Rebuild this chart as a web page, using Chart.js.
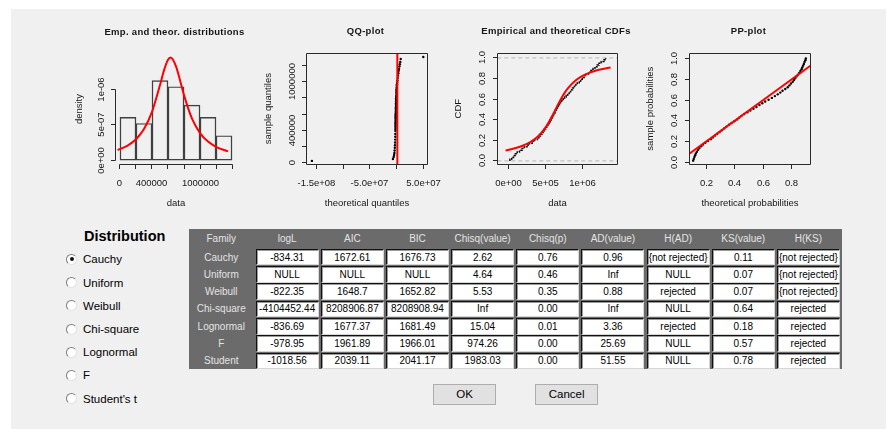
<!DOCTYPE html>
<html>
<head>
<meta charset="utf-8">
<script src="https://cdn.jsdelivr.net/npm/chart.js@4.4.0/dist/chart.umd.min.js"></script>
<style>
body { margin:0; width:887px; height:429px; background:#fff; position:relative; overflow:hidden; font-family:"Liberation Sans", Arial, sans-serif; }
#panel { position:absolute; left:11px; top:9px; width:875px; height:420px; background:#f0f0f0; }
canvas { position:absolute; }
#heading { position:absolute; left:84px; top:227px; font-size:14.5px; font-weight:bold; line-height:18px; color:#000; }
.radio { position:absolute; left:66px; height:16px; line-height:16px; font-size:11.5px; color:#000; white-space:nowrap; }
.radio .dot { position:absolute; left:0; top:2.5px; width:9px; height:9px; border:1px solid; border-color:#7d7d7d #e2e2e2 #e2e2e2 #7d7d7d; border-radius:50%; background:#fff; }
.radio .dot.on::after { content:''; position:absolute; left:2.5px; top:2.5px; width:4px; height:4px; border-radius:50%; background:#111; }
.radio span { position:absolute; left:17px; }
#tbl { position:absolute; left:189px; top:229.3px; width:652.7px; height:140px; background:#6b6b6b; display:grid; grid-template-columns:64.5px repeat(9,63px); grid-template-rows:18.7px repeat(7,16.6px); column-gap:2.16px; row-gap:0.73px; font-size:10px; }
#tbl div { display:flex; align-items:center; justify-content:center; white-space:nowrap; overflow:hidden; }
#tbl .hd { color:#e4e4e4; }
#tbl .cell { background:#fff; color:#000; box-sizing:border-box; border-top:1px solid #111; border-left:1px solid #111; border-right:1px solid #d6d6d6; border-bottom:1px solid #d6d6d6; box-shadow:inset 1px 1px 0 #9a9a9a; }
.btn { position:absolute; top:384px; width:62.7px; height:20.7px; box-sizing:border-box; background:#e1e1e1; border:1px solid #adadad; font-size:11.5px; display:flex; align-items:center; justify-content:center; color:#000; }
</style>
</head>
<body>
<div id="panel"></div>
<canvas id="c1"></canvas>
<canvas id="c2"></canvas>
<canvas id="c3"></canvas>
<canvas id="c4"></canvas>
<div id="heading">Distribution</div>
<div id="radios"></div>
<div id="tbl"></div>
<div class="btn" style="left:433.3px">OK</div>
<div class="btn" style="left:535.3px">Cancel</div>
<script>
// histogram (bins of 200000)
const histBreaks = [0, 200000, 400000, 600000, 800000, 1000000, 1200000, 1400000]
const binMid = [100000, 300000, 500000, 700000, 900000, 1100000, 1300000]
const binDensity = [0.603e-6, 0.517e-6, 1.12e-6, 1.034e-6, 0.776e-6, 0.603e-6, 0.345e-6]

// fitted density curve (red)
const denX = [-30000, 100000, 200000, 300000, 400000, 500000, 550000, 600000, 633000, 700000, 750000, 800000, 900000, 1000000, 1100000, 1200000, 1350000]
const denY = [0.143e-6, 0.21e-6, 0.296e-6, 0.439e-6, 0.681e-6, 1.057e-6, 1.264e-6, 1.412e-6, 1.444e-6, 1.321e-6, 1.126e-6, 0.916e-6, 0.584e-6, 0.382e-6, 0.262e-6, 0.189e-6, 0.124e-6]

// sorted sample
const sampleSorted = [22000, 45000, 70000, 95000, 120000, 150000, 185000, 215000, 250000, 285000,
  320000, 355000, 390000, 410000, 430000, 450000, 468000, 485000, 500000, 515000,
  530000, 545000, 560000, 575000, 585000, 597000, 610000, 625000, 640000, 655000,
  670000, 685000, 700000, 715000, 735000, 755000, 775000, 795000, 815000, 835000,
  860000, 885000, 905000, 925000, 950000, 970000, 990000, 1015000, 1045000, 1075000,
  1105000, 1135000, 1160000, 1190000, 1215000, 1245000, 1280000, 1305000]

// QQ-plot theoretical quantiles
const qqTheo = [-159e6, -7.0e6, -5.6e6, -4.8e6, -4.2e6, -3.8e6, -3.4e6, -3.1e6, -2.9e6, -2.7e6,
  -2.5e6, -2.4e6, -2.3e6, -2.2e6, -2.15e6, -2.1e6, -2.05e6, -2.0e6, -1.95e6, -1.9e6,
  -1.85e6, -1.8e6, -1.75e6, -1.7e6, -1.65e6, -1.6e6, -1.55e6, -1.5e6, -1.45e6, -1.4e6,
  -1.35e6, -1.3e6, -1.25e6, -1.2e6, -1.15e6, -1.1e6, -1.0e6, -0.9e6, -0.8e6, -0.7e6,
  -0.6e6, -0.5e6, -0.3e6, -0.1e6, 0.2e6, 0.6e6, 1.0e6, 1.5e6, 2.0e6, 2.6e6,
  3.2e6, 3.8e6, 4.5e6, 5.2e6, 6.0e6, 6.8e6, 7.6e6, 50e6]
const qqLineX = [1.1e6, 1.3e6]
const qqLineY = [-16000, 1351000]

// empirical probabilities
const ecdfP = [0.017, 0.034, 0.052, 0.069, 0.086, 0.103, 0.121, 0.138, 0.155, 0.172,
  0.190, 0.207, 0.224, 0.241, 0.259, 0.276, 0.293, 0.310, 0.328, 0.345,
  0.362, 0.379, 0.397, 0.414, 0.431, 0.448, 0.466, 0.483, 0.500, 0.517,
  0.534, 0.552, 0.569, 0.586, 0.603, 0.621, 0.638, 0.655, 0.672, 0.690,
  0.707, 0.724, 0.741, 0.759, 0.776, 0.793, 0.810, 0.828, 0.845, 0.862,
  0.879, 0.897, 0.914, 0.931, 0.948, 0.966, 0.983, 1.000]

// theoretical CDF curve (red)
const cdfX = [-36000, 100000, 200000, 300000, 400000, 500000, 550000, 600000, 650000, 700000, 750000, 800000, 900000, 1000000, 1100000, 1200000, 1370000]
const cdfY = [0.101, 0.125, 0.150, 0.186, 0.241, 0.327, 0.385, 0.453, 0.525, 0.594, 0.656, 0.707, 0.781, 0.828, 0.860, 0.882, 0.908]

// PP-plot theoretical probabilities
const ppTheo = [0.110, 0.114, 0.119, 0.124, 0.129, 0.136, 0.145, 0.154, 0.166, 0.179,
  0.195, 0.213, 0.234, 0.248, 0.263, 0.279, 0.295, 0.311, 0.327, 0.343,
  0.361, 0.379, 0.398, 0.418, 0.432, 0.448, 0.467, 0.489, 0.510, 0.532,
  0.553, 0.574, 0.594, 0.614, 0.638, 0.661, 0.682, 0.702, 0.720, 0.736,
  0.755, 0.772, 0.784, 0.795, 0.807, 0.816, 0.824, 0.834, 0.844, 0.853,
  0.861, 0.869, 0.874, 0.880, 0.885, 0.890, 0.896, 0.899]
const ppLine = [0.083, 0.933]

// table
const headers = ['Family', 'logL', 'AIC', 'BIC', 'Chisq(value)', 'Chisq(p)', 'AD(value)', 'H(AD)', 'KS(value)', 'H(KS)']
const families = ['Cauchy', 'Uniform', 'Weibull', 'Chi-square', 'Lognormal', 'F', 'Student']
const logL = ['-834.31', 'NULL', '-822.35', '-4104452.44', '-836.69', '-978.95', '-1018.56']
const aic = ['1672.61', 'NULL', '1648.7', '8208906.87', '1677.37', '1961.89', '2039.11']
const bic = ['1676.73', 'NULL', '1652.82', '8208908.94', '1681.49', '1966.01', '2041.17']
const chisqValue = ['2.62', '4.64', '5.53', 'Inf', '15.04', '974.26', '1983.03']
const chisqP = ['0.76', '0.46', '0.35', '0.00', '0.01', '0.00', '0.00']
const adValue = ['0.96', 'Inf', '0.88', 'Inf', '3.36', '25.69', '51.55']
const hAD = ['{not rejected}', 'NULL', 'rejected', 'NULL', 'rejected', 'NULL', 'NULL']
const ksValue = ['0.11', '0.07', '0.07', '0.64', '0.18', '0.57', '0.78']
const hKS = ['{not rejected}', '{not rejected}', '{not rejected}', 'rejected', 'rejected', 'rejected', 'rejected']

const distNames = ['Cauchy', 'Uniform', 'Weibull', 'Chi-square', 'Lognormal', 'F', "Student's t"]
const radioY = [259.3, 282.5, 305.7, 329, 352.2, 375.4, 398.6]

// radios
const radios = document.getElementById('radios')
distNames.forEach((n, i) => {
  const r = document.createElement('div')
  r.className = 'radio'
  r.style.top = (radioY[i] - 8) + 'px'
  r.innerHTML = '<div class="dot' + (i === 0 ? ' on' : '') + '"></div><span>' + n + '</span>'
  radios.appendChild(r)
})

// table
const tbl = document.getElementById('tbl')
headers.forEach(h => { const d = document.createElement('div'); d.className = 'hd'; d.textContent = h; tbl.appendChild(d) })
const cols = [logL, aic, bic, chisqValue, chisqP, adValue, hAD, ksValue, hKS]
families.forEach((f, r) => {
  const d = document.createElement('div'); d.className = 'hd'; d.textContent = f; tbl.appendChild(d)
  cols.forEach(col => { const c = document.createElement('div'); c.className = 'cell'; c.textContent = col[r]; tbl.appendChild(c) })
})

// R style axes, box and titles
const axisCfg = {}
const FONT = '"Liberation Sans", Arial, sans-serif'
const rAxes = {
  id: 'rAxes',
  afterDraw(chart) {
    const o = axisCfg[chart.canvas.id]
    const ctx = chart.ctx, a = chart.chartArea
    const xs = chart.scales.x, ys = chart.scales.y
    const c = v => Math.floor(v) + 0.5
    const L = c(a.left), R = c(a.right), T = c(a.top), B = c(a.bottom)
    ctx.save()
    ctx.strokeStyle = '#2a2a2a'
    ctx.fillStyle = '#161616'
    ctx.lineWidth = 1
    ctx.beginPath()
    if (o.box) ctx.rect(L, T, R - L, B - T)
    const xp = o.xTicks.map(v => c(xs.getPixelForValue(v)))
    const yp = o.yTicks.map(v => c(ys.getPixelForValue(v)))
    ctx.moveTo(xp[0], B); ctx.lineTo(xp[xp.length - 1], B)
    ctx.moveTo(L, yp[0]); ctx.lineTo(L, yp[yp.length - 1])
    xp.forEach(p => { ctx.moveTo(p, B); ctx.lineTo(p, B + 4.5) })
    yp.forEach(p => { ctx.moveTo(L, p); ctx.lineTo(L - 4.5, p) })
    ctx.stroke()
    ctx.font = '9.5px ' + FONT
    ctx.textAlign = 'center'
    ctx.textBaseline = 'middle'
    o.xLabels.forEach((t, i) => { if (t) ctx.fillText(t, xp[i], a.bottom + 19) })
    o.yLabels.forEach((t, i) => {
      if (!t) return
      ctx.save(); ctx.translate(a.left - 14.5, yp[i]); ctx.rotate(-Math.PI / 2); ctx.fillText(t, 0, 0); ctx.restore()
    })
    ctx.fillText(o.xTitle, (a.left + a.right) / 2, a.bottom + 39)
    ctx.save(); ctx.translate(a.left - o.yGap, (a.top + a.bottom) / 2); ctx.rotate(-Math.PI / 2); ctx.fillText(o.yTitle, 0, 0); ctx.restore()
    ctx.font = 'bold 9.5px ' + FONT
    ctx.letterSpacing = '0.3px'
    ctx.fillText(o.title, (a.left + a.right) / 2 - 1.5, a.top - 21.5)
    ctx.restore()
  }
}

function makeChart(id, rect, box, type, datasets, xr, yr, axes, xBreaks) {
  const cv = document.getElementById(id)
  cv.style.left = rect[0] + 'px'
  cv.style.top = rect[1] + 'px'
  cv.width = rect[2]
  cv.height = rect[3]
  axisCfg[id] = axes
  const xScale = { type: 'linear', display: false, min: xr[0], max: xr[1], offset: false }
  if (xBreaks) xScale.afterBuildTicks = s => { s.ticks = xBreaks.map(v => ({ value: v })) }
  return new Chart(cv, {
    type: type,
    data: { datasets: datasets },
    options: {
      responsive: false,
      animation: false,
      events: [],
      layout: { autoPadding: false, padding: { left: box[0] - rect[0], top: box[1] - rect[1], right: rect[0] + rect[2] - box[2], bottom: rect[1] + rect[3] - box[3] } },
      plugins: { legend: { display: false }, tooltip: { enabled: false } },
      scales: { x: xScale, y: { type: 'linear', display: false, min: yr[0], max: yr[1] } }
    },
    plugins: [rAxes]
  })
}

const red = { borderColor: '#ff0000', borderWidth: 2, pointRadius: 0, showLine: true, fill: false }

// 1. histogram + density
makeChart('c1', [60, 15, 190, 200], [115.5, 53.6, 236.5, 164.5], 'bar', [
  Object.assign({ type: 'line', data: denX.map((v, i) => ({ x: v, y: denY[i] })), cubicInterpolationMode: 'monotone' }, red),
  { type: 'bar', data: binMid.map((v, i) => ({ x: v, y: binDensity[i] })), backgroundColor: 'rgba(0,0,0,0)', borderColor: '#404040', borderWidth: 0.8, borderSkipped: false, barPercentage: 1, categoryPercentage: 1 }
], [-56000, 1456000], [-0.06e-6, 1.5e-6], {
  box: false, title: 'Emp. and theor. distributions', xTitle: 'data', yTitle: 'density', yGap: 36.5,
  xTicks: histBreaks, xLabels: ['0', '', '400000', '', '', '1000000', '', ''],
  yTicks: [0, 0.5e-6, 1e-6], yLabels: ['0e+00', '5e-07', '1e-06']
}, histBreaks)

// 2. QQ-plot
makeChart('c2', [255, 15, 190, 200], [306.7, 53.3, 427.3, 164], 'scatter', [
  Object.assign({ data: qqLineX.map((v, i) => ({ x: v, y: qqLineY[i] })) }, red),
  { data: qqTheo.map((v, i) => ({ x: v, y: sampleSorted[i] })), pointRadius: 1.2, borderWidth: 0, backgroundColor: '#000' }
], [-1.6875e8, 5.75e7], [-16000, 1351000], {
  box: true, title: 'QQ-plot', xTitle: 'theoretical quantiles', yTitle: 'sample quantiles', yGap: 38.5,
  xTicks: [-1.5e8, -1e8, -5e7, 0, 5e7], xLabels: ['-1.5e+08', '', '-5.0e+07', '', '5.0e+07'],
  yTicks: [0, 200000, 400000, 600000, 800000, 1000000, 1200000], yLabels: ['0', '', '400000', '', '', '1000000', '']
})

// 3. CDFs
const dash = { borderColor: '#b4b4b4', borderWidth: 1, borderDash: [4, 3], pointRadius: 0, showLine: true }
makeChart('c3', [445, 15, 190, 200], [497.3, 53.3, 617.7, 164], 'scatter', [
  Object.assign({ data: cdfX.map((v, i) => ({ x: v, y: cdfY[i] })), cubicInterpolationMode: 'monotone' }, red),
  { data: [{ x: sampleSorted[0], y: 0 }].concat(sampleSorted.map((v, i) => ({ x: v, y: ecdfP[i] }))), showLine: true, stepped: true, borderColor: '#000', borderWidth: 1.5, borderDash: [2, 1], pointRadius: 0 },
  Object.assign({ data: [{ x: -147000, y: 0 }, { x: 1465000, y: 0 }] }, dash),
  Object.assign({ data: [{ x: -147000, y: 1 }, { x: 1465000, y: 1 }] }, dash)
], [-147000, 1465000], [-0.03, 1.045], {
  box: true, title: 'Empirical and theoretical CDFs', xTitle: 'data', yTitle: 'CDF', yGap: 39,
  xTicks: [0, 500000, 1000000], xLabels: ['0e+00', '5e+05', '1e+06'],
  yTicks: [0, 0.2, 0.4, 0.6, 0.8, 1], yLabels: ['0.0', '0.2', '0.4', '0.6', '0.8', '1.0']
})

// 4. PP-plot
makeChart('c4', [640, 15, 200, 200], [689.3, 53.3, 810.7, 164], 'scatter', [
  Object.assign({ data: ppLine.map(v => ({ x: v, y: v })) }, red),
  { data: ppTheo.map((v, i) => ({ x: v, y: ecdfP[i] })), pointRadius: 1.2, borderWidth: 0, backgroundColor: '#000' }
], [0.083, 0.933], [-0.015, 1.05], {
  box: true, title: 'PP-plot', xTitle: 'theoretical probabilities', yTitle: 'sample probabilities', yGap: 39.3,
  xTicks: [0.2, 0.4, 0.6, 0.8], xLabels: ['0.2', '0.4', '0.6', '0.8'],
  yTicks: [0, 0.2, 0.4, 0.6, 0.8, 1], yLabels: ['0.0', '0.2', '0.4', '0.6', '0.8', '1.0']
})
</script>
</body>
</html>
